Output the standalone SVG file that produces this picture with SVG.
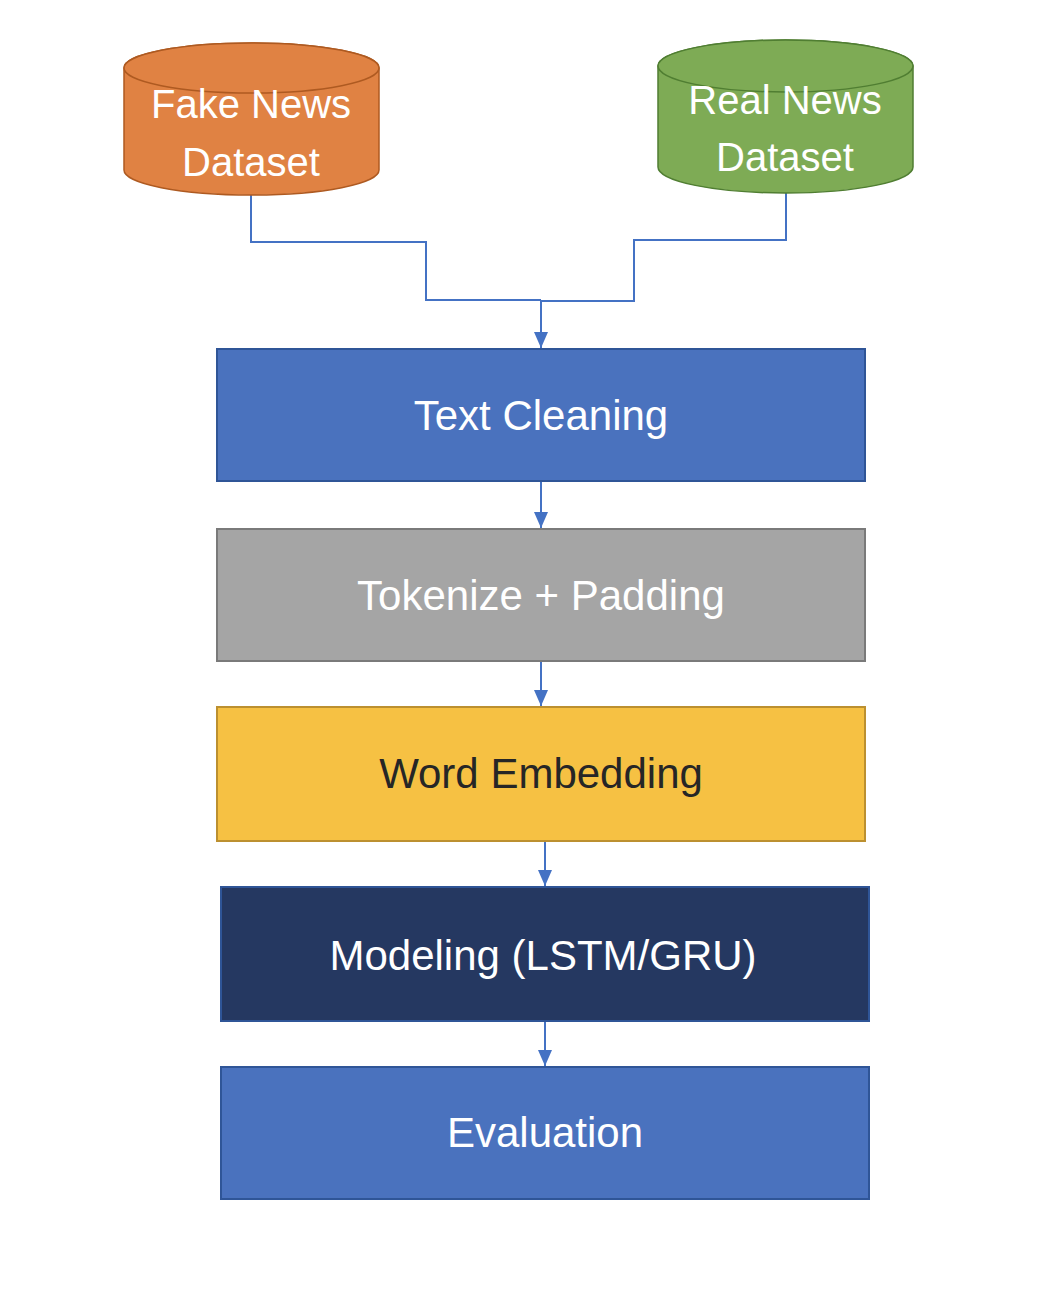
<svg xmlns="http://www.w3.org/2000/svg" width="1060" height="1290" viewBox="0 0 1060 1290">
<style>
.lbl{font-family:"Liberation Sans",Arial,sans-serif;font-size:40px;text-anchor:middle;fill:#fff}
.box{font-size:42px}
.conn{fill:none;stroke:#4472C4;stroke-width:2}
</style>
<defs>
<marker id="ah2" viewBox="0 0 16 14" refX="16" refY="7" markerWidth="16" markerHeight="14" markerUnits="userSpaceOnUse" orient="auto">
<path d="M0,0 L16,7 L0,14 Z" fill="#4472C4"/>
</marker>
</defs>
<rect width="1060" height="1290" fill="#fff"/>
<g id="connectors">
<polyline class="conn" points="251,195 251,242 426,242 426,300 541,300"/>
<polyline class="conn" points="786,193 786,240 634,240 634,301 541,301"/>
<line class="conn" x1="541" y1="300" x2="541" y2="348" marker-end="url(#ah2)"/>
<line class="conn" x1="541" y1="482" x2="541" y2="528" marker-end="url(#ah2)"/>
<line class="conn" x1="541" y1="662" x2="541" y2="706" marker-end="url(#ah2)"/>
<line class="conn" x1="545" y1="842" x2="545" y2="886" marker-end="url(#ah2)"/>
<line class="conn" x1="545" y1="1021" x2="545" y2="1066" marker-end="url(#ah2)"/>
</g>
<g id="fake">
<path d="M124,68 L124,170 A127.5,25 0 0 0 379,170 L379,68 A127.5,25 0 0 0 124,68 Z" fill="#E08243" stroke="#AE5A21" stroke-width="1.5"/>
<ellipse cx="251.5" cy="68" rx="127.5" ry="25" fill="#E08243" stroke="#AE5A21" stroke-width="1.5"/>
<text class="lbl" x="251" y="118">Fake News</text>
<text class="lbl" x="251" y="176">Dataset</text>
</g>
<g id="real">
<path d="M658,66 L658,167 A127.5,26 0 0 0 913,167 L913,66 A127.5,26 0 0 0 658,66 Z" fill="#7EAB55" stroke="#507E32" stroke-width="1.5"/>
<ellipse cx="785.5" cy="66" rx="127.5" ry="26" fill="#7EAB55" stroke="#507E32" stroke-width="1.5"/>
<text class="lbl" x="785" y="114">Real News</text>
<text class="lbl" x="785" y="171">Dataset</text>
</g>
<g id="cleaning">
<rect x="217" y="349" width="648" height="132" fill="#4A72BE" stroke="#2F5597" stroke-width="2"/>
<text class="lbl box" x="541" y="430">Text Cleaning</text>
</g>
<g id="tokenize">
<rect x="217" y="529" width="648" height="132" fill="#A5A5A5" stroke="#7A7A7A" stroke-width="2"/>
<text class="lbl box" x="541" y="610">Tokenize + Padding</text>
</g>
<g id="embedding">
<rect x="217" y="707" width="648" height="134" fill="#F6C143" stroke="#BC9030" stroke-width="2"/>
<text class="lbl box" x="541" y="788" style="fill:#262626">Word Embedding</text>
</g>
<g id="modeling">
<rect x="221" y="887" width="648" height="134" fill="#253861" stroke="#2F5597" stroke-width="2"/>
<text class="lbl box" x="543" y="970">Modeling (LSTM/GRU)</text>
</g>
<g id="evaluation">
<rect x="221" y="1067" width="648" height="132" fill="#4A72BE" stroke="#2F5597" stroke-width="2"/>
<text class="lbl box" x="545" y="1147">Evaluation</text>
</g>
</svg>
